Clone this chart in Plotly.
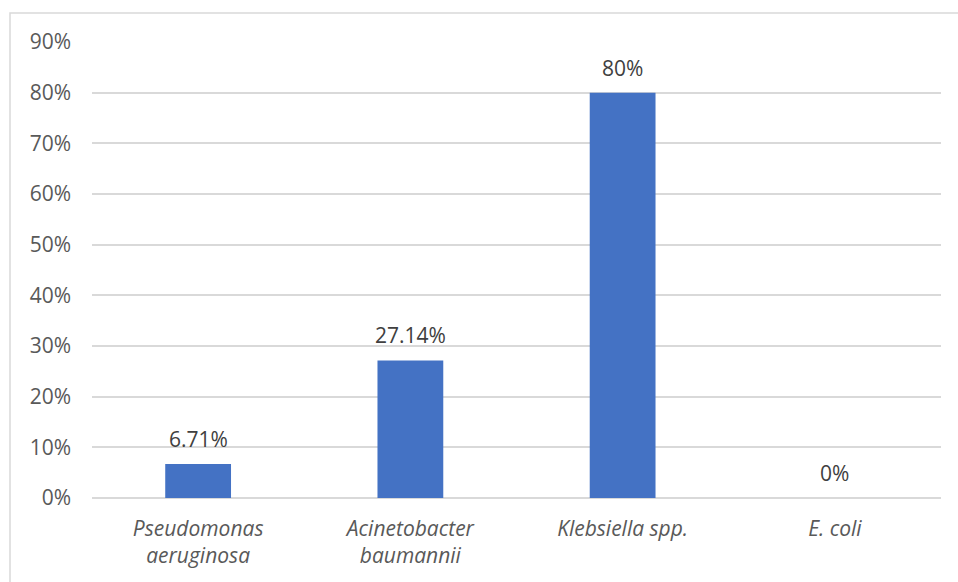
import plotly.graph_objects as go

categories = ["<i>Pseudomonas</i><br><i>aeruginosa</i>", "<i>Acinetobacter</i><br><i>baumannii</i>",
              "<i>Klebsiella spp.</i>", "<i>E. coli</i>"]
values = [6.71, 27.14, 80, 0]
value_labels = ["6.71%", "27.14%", "80%", "0%"]
tick_vals = [0, 10, 20, 30, 40, 50, 60, 70, 80, 90]
tick_text = ["0%", "10%", "20%", "30%", "40%", "50%", "60%", "70%", "80%", "90%"]

FONT = "Open Sans"

fig = go.Figure(go.Bar(
    x=categories, y=values,
    marker=dict(color="#4472C4", line=dict(width=0)),
    cliponaxis=False,
))

for c, v, t in zip(categories, values, value_labels):
    fig.add_annotation(x=c, y=v, text=t, showarrow=False, yanchor="middle", yshift=25,
                       font=dict(family=FONT, size=21, color="#404040"))

W, H = 958, 582
ml, mr, mt, mb = 92, 17, 42, 84
pw, ph = W - ml - mr, H - mt - mb

fig.update_layout(
    width=W, height=H,
    margin=dict(l=ml, r=mr, t=mt, b=mb),
    paper_bgcolor="white", plot_bgcolor="white",
    bargap=0.69,
    showlegend=False,
    font=dict(family=FONT, size=21, color="#595959"),
    xaxis=dict(showgrid=False, showline=False, ticks="", zeroline=False,
               ticklabelstandoff=16,
               tickfont=dict(family=FONT, size=21, color="#595959")),
    yaxis=dict(range=[0, 90], tickvals=tick_vals, ticktext=tick_text,
               showgrid=True, gridcolor="#d9d9d9", gridwidth=1.5,
               zeroline=True, zerolinecolor="#d9d9d9", zerolinewidth=1.5,
               showline=False, ticks="", ticklabelstandoff=20,
               tickfont=dict(family=FONT, size=21, color="#595959")),
    shapes=[dict(type="rect", xref="paper", yref="paper",
                 x0=(10 - ml) / pw, x1=(W + 20 - ml) / pw,
                 y0=-(mb + 20) / ph, y1=(H - mb - 13) / ph,
                 line=dict(color="#d9d9d9", width=1.5), layer="below")],
)

fig.write_html("out.html")
